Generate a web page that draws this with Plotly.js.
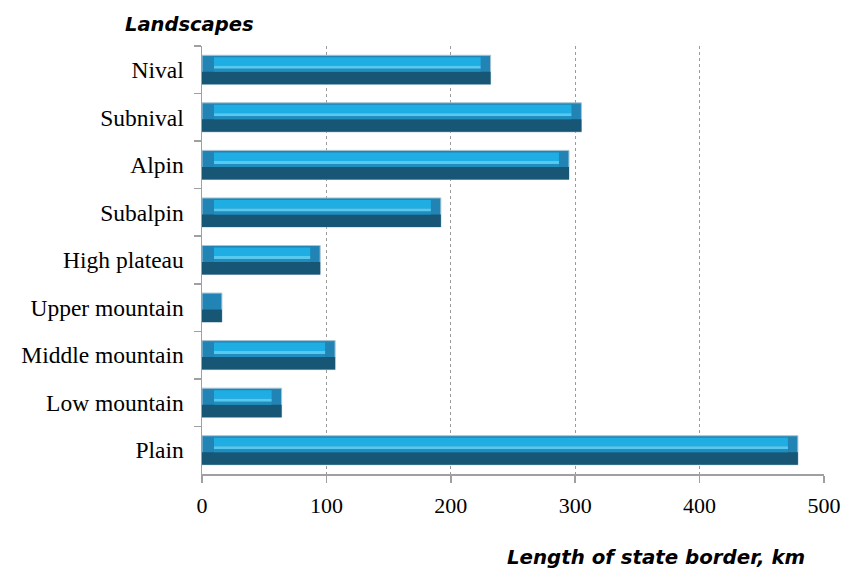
<!DOCTYPE html>
<html>
<head>
<meta charset="utf-8">
<script src="https://cdn.plot.ly/plotly-3.0.1.min.js"></script>
<style>html,body{margin:0;padding:0;background:#fff;}#chart{width:843px;height:571px;}</style>
</head>
<body>
<div id="chart"></div>
<script>
// Data (top to bottom as shown)
const categories = ["Nival","Subnival","Alpin","Subalpin","High plateau","Upper mountain","Middle mountain","Low mountain","Plain"];
const borderKm = [232, 305, 295, 192, 95, 16, 107, 64, 479];
const xTickValues = [0, 100, 200, 300, 400, 500];

// Style constants (pixel -> axis units)
const PX_Y = 1 / 47.56;          // category units per pixel
const PX_X = 500 / 622;          // km per pixel
const insetL = 12 * PX_X, insetR = 10 * PX_X;

const insetBase = borderKm.map(v => Math.min(insetL, v / 2));
const insetLen = borderKm.map((v, i) => Math.max(0, v - insetBase[i] - insetR));

function layer(x, base, offPx, hPx, color, line) {
  return {
    type: 'bar', orientation: 'h', y: categories, x: x, base: base,
    width: hPx * PX_Y, offset: offPx * PX_Y,
    marker: {color: color, line: line || {width: 0}},
    hoverinfo: 'skip', showlegend: false
  };
}
const zeros = borderKm.map(() => 0);
const traces = [
  layer(borderKm, zeros, -14.5, 29, '#2184b4', {color: '#a9c3d3', width: 1}),
  layer(borderKm, zeros, 2, 12.5, '#175674'),
  layer(insetLen, insetBase, -12.5, 8.5, '#1eaee4'),
  layer(insetLen, insetBase, -4, 3, '#58c8ee'),
  layer(insetLen, insetBase, -1, 3, '#1f8ebf')
];

const SERIF = 'Liberation Serif, serif';
const SANS = 'DejaVu Sans, sans-serif';

const layout = {
  width: 843, height: 571,
  margin: {l: 202, r: 19, t: 46, b: 97},
  paper_bgcolor: '#fff', plot_bgcolor: '#fff',
  barmode: 'overlay',
  title: {text: '<b><i>Landscapes</i></b>', xref: 'container', yref: 'container',
          x: 125 / 843, xanchor: 'left', y: 1 - 24 / 571, yanchor: 'middle',
          font: {family: SANS, size: 19.5, color: '#000'}},
  xaxis: {
    range: [0, 500], tickvals: xTickValues, ticktext: xTickValues.map(String),
    showgrid: true, gridcolor: '#9a9a9a', griddash: 'dot', gridwidth: 1,
    showline: true, linecolor: '#a0a0a0', linewidth: 1.5,
    ticks: 'outside', ticklen: 7, tickcolor: '#a0a0a0', tickwidth: 1.5,
    ticklabelstandoff: 4,
    zeroline: false,
    tickfont: {family: SERIF, size: 22, color: '#000'}
  },
  yaxis: {
    type: 'category', autorange: 'reversed',
    showgrid: false, showline: true, linecolor: '#a0a0a0', linewidth: 1.5,
    ticks: 'outside', ticklen: 7, tickcolor: '#a0a0a0', tickwidth: 1.5,
    tickson: 'boundaries', ticklabelstandoff: 12,
    tickfont: {family: SERIF, size: 23.5, color: '#000'}
  },
  annotations: [{
    text: '<b><i>Length of state border, km</i></b>', xref: 'paper', yref: 'paper',
    x: (656 - 202) / 622, y: (474 - 557) / 428, xanchor: 'center', yanchor: 'middle',
    showarrow: false, font: {family: SANS, size: 19.8, color: '#000'}
  }]
};

Plotly.newPlot('chart', traces, layout, {displayModeBar: false, staticPlot: true});
</script>
</body>
</html>
